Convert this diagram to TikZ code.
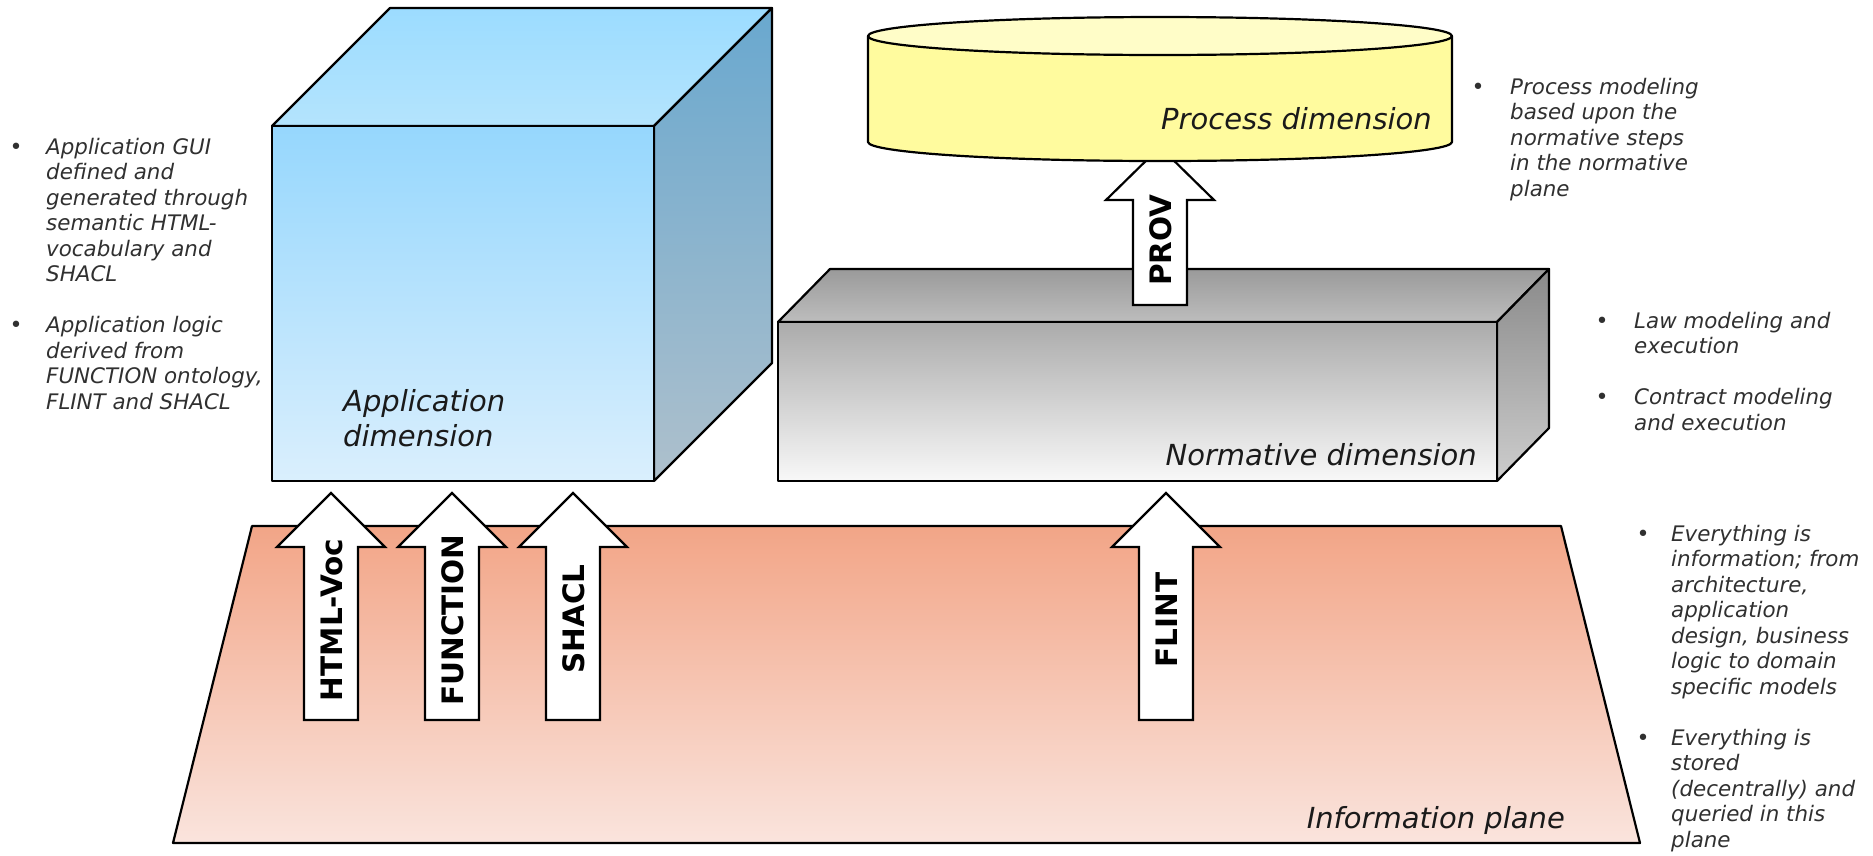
\documentclass[tikz,border=0pt]{standalone}
\usepackage{fontspec}
\setmainfont{DejaVu Sans}
\definecolor{cubeFrontTop}{HTML}{96D7FD}
\definecolor{cubeFrontBot}{HTML}{DAEFFD}
\definecolor{cubeTopBack}{HTML}{9CDCFF}
\definecolor{cubeTopFront}{HTML}{B4E4FD}
\definecolor{cubeSideTop}{HTML}{69A8CF}
\definecolor{cubeSideBot}{HTML}{AEC0CC}
\definecolor{normFrontTop}{HTML}{ABABAB}
\definecolor{normFrontBot}{HTML}{F8F8F8}
\definecolor{normTopBack}{HTML}{9A9A9A}
\definecolor{normTopFront}{HTML}{BDBDBD}
\definecolor{normSideTop}{HTML}{8A8A8A}
\definecolor{normSideBot}{HTML}{CDCDCD}
\definecolor{planeTop}{HTML}{F2A587}
\definecolor{planeBot}{HTML}{FAE4DD}
\definecolor{cylBody}{HTML}{FFFB9E}
\definecolor{cylTop}{HTML}{FFFDC8}
\definecolor{bulGray}{HTML}{303030}
\definecolor{lblBlack}{HTML}{1A1A1A}
\newcommand{\blkarrow}[6]{% name, cx, tip y, head base y, bottom y, label center y
  \coordinate (#1-tip) at (#2,#3);
  \coordinate (#1-tail) at (#2,#5);
  \draw[blockarr] (#2-27,#5) -- (#2-27,#4) -- (#2-54,#4) -- (#1-tip) -- (#2+54,#4) -- (#2+27,#4) -- (#2+27,#5) -- cycle;
}
\begin{document}
\begin{tikzpicture}[x=1pt,y=-1pt,
  face/.style={draw=black, line width=2.2pt, line join=round},
  blockarr/.style={draw=black, fill=white, line width=2.2pt, line join=miter},
  arrlabel/.style={rotate=90, inner sep=0pt, text height=21pt, text depth=0pt,
    font=\fontsize{29.5}{29.5}\selectfont\bfseries, text=black},
  biglabel/.style={inner sep=0pt, font=\fontsize{29}{35}\selectfont\itshape, text=lblBlack},
  bultext/.style={inner sep=0pt, anchor=base west, font=\fontsize{21.4}{25.5}\selectfont\itshape, text=bulGray},
  bulletdot/.style={inner sep=0pt, anchor=base, font=\fontsize{22}{22}\selectfont, text=bulGray}]
\useasboundingbox (0,0) rectangle (1873,855);

% Information plane
\path[face, top color=planeTop, bottom color=planeBot]
  (252,526) -- (1561,526) -- (1640,843) -- (173,843) -- cycle;

% Application cube
\path[face, top color=cubeTopBack, bottom color=cubeTopFront]
  (272,126) -- (390,8) -- (772,8) -- (654,126) -- cycle;
\path[face, top color=cubeSideTop, bottom color=cubeSideBot]
  (654,126) -- (772,8) -- (772,363) -- (654,481) -- cycle;
\path[face, top color=cubeFrontTop, bottom color=cubeFrontBot]
  (272,126) rectangle (654,481);

% Normative box
\path[face, top color=normTopBack, bottom color=normTopFront]
  (778,322) -- (830,269) -- (1549,269) -- (1497,322) -- cycle;
\path[face, top color=normSideTop, bottom color=normSideBot]
  (1497,322) -- (1549,269) -- (1549,428) -- (1497,481) -- cycle;
\path[face, top color=normFrontTop, bottom color=normFrontBot]
  (778,322) rectangle (1497,481);

% PROV arrow (behind the cylinder)
\blkarrow{prov}{1160}{147}{200}{305}{240}

% Process cylinder
\path[face, fill=cylBody] (868,36) -- (868,142)
  .. controls (868,152.5) and (998.7,161) .. (1160,161)
  .. controls (1321.3,161) and (1452,152.5) .. (1452,142) -- (1452,36) -- cycle;
\path[face, fill=cylTop] (1160,36) ellipse [x radius=292pt, y radius=19pt];

% Arrows from the information plane
\blkarrow{html}{331}{493}{547}{720}{620}
\blkarrow{func}{452}{493}{547}{720}{620}
\blkarrow{shacl}{573}{493}{547}{720}{620}
\blkarrow{flint}{1166}{493}{547}{720}{620}

% Arrow labels
\node[arrlabel] (provlbl) at (1161,240) {PROV};
\node[arrlabel] (htmllbl) at (332,620) {HTML-Voc};
\node[arrlabel] (funclbl) at (453,620) {FUNCTION};
\node[arrlabel] (shacllbl) at (574,619) {SHACL};
\node[arrlabel] (flintlbl) at (1167,620) {FLINT};

% Dimension labels
\node[biglabel, anchor=base west] (appdim) at (343,411)
  {\parbox[t]{300pt}{\raggedright Application\\dimension}};
\node[biglabel, anchor=base east] (procdim) at (1432,129) {Process dimension};
\node[biglabel, anchor=base east] (normdim) at (1477,465) {Normative dimension};
\node[biglabel, anchor=base east] (infoplane) at (1565,828) {Information plane};

% Left bullets
\node[bulletdot] (lb1) at (16,154) {•};
\node[bulletdot] (lb2) at (16,332) {•};
\node[bultext] (lefttext) at (46,154) {\parbox[t]{300pt}{\raggedright
  Application GUI\\defined and\\generated through\\semantic HTML-\\vocabulary and\\SHACL\\[25.5pt]
  Application logic\\derived from\\FUNCTION ontology,\\FLINT and SHACL}};

% Right top bullets
\node[bulletdot] (rb1) at (1478,94) {•};
\node[bultext] (proctext) at (1510,94) {\parbox[t]{300pt}{\raggedright
  Process modeling\\based upon the\\normative steps\\in the normative\\plane}};

% Right middle bullets
\node[bulletdot] (mb1) at (1602,328) {•};
\node[bulletdot] (mb2) at (1602,404.5) {•};
\node[bultext] (normtext) at (1634,328) {\parbox[t]{300pt}{\raggedright
  Law modeling and\\execution\\[25.5pt]Contract modeling\\and execution}};

% Right bottom bullets
\node[bulletdot] (ib1) at (1643,541) {•};
\node[bulletdot] (ib2) at (1643,745.5) {•};
\node[bultext] (infotext) at (1671,541) {\parbox[t]{300pt}{\raggedright
  Everything is\\information; from\\architecture,\\application\\design, business\\logic to domain\\specific models\\[25.5pt]
  Everything is\\stored\\(decentrally) and\\queried in this\\plane}};
\end{tikzpicture}
\end{document}
